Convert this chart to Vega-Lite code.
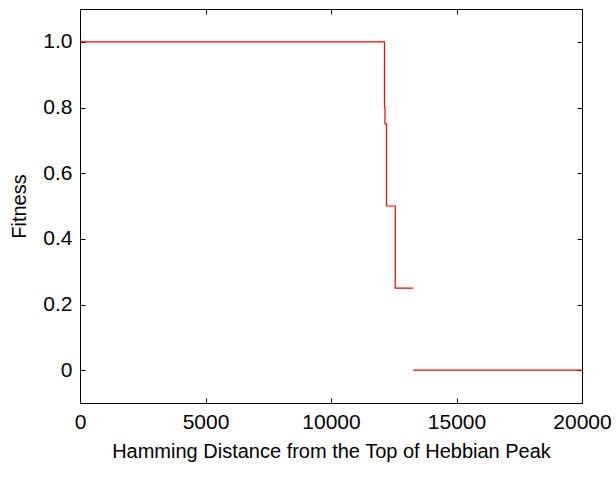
{
  "$schema": "https://vega.github.io/schema/vega-lite/v6.json",
  "width": 502,
  "height": 394,
  "autosize": "none",
  "padding": {"left": 80, "top": 9, "right": 34, "bottom": 78},
  "background": "white",
  "data": {
    "values": [
      {"seg": "a", "i": 1, "dist": 0, "fitness": 1},
      {"seg": "a", "i": 2, "dist": 12130, "fitness": 1},
      {"seg": "a", "i": 3, "dist": 12130, "fitness": 0.8},
      {"seg": "a", "i": 4, "dist": 12150, "fitness": 0.8},
      {"seg": "a", "i": 5, "dist": 12150, "fitness": 0.75},
      {"seg": "a", "i": 6, "dist": 12210, "fitness": 0.75},
      {"seg": "a", "i": 7, "dist": 12210, "fitness": 0.5},
      {"seg": "a", "i": 8, "dist": 12560, "fitness": 0.5},
      {"seg": "a", "i": 9, "dist": 12560, "fitness": 0.25},
      {"seg": "a", "i": 10, "dist": 13270, "fitness": 0.25},
      {"seg": "b", "i": 11, "dist": 13280, "fitness": 0},
      {"seg": "b", "i": 12, "dist": 20000, "fitness": 0}
    ]
  },
  "layer": [
    {
      "mark": {"type": "line", "color": "#ff0000", "strokeWidth": 1.2},
      "encoding": {
        "x": {
          "field": "dist",
          "type": "quantitative",
          "scale": {"domain": [0, 20000], "nice": false, "zero": false},
          "axis": {
            "title": "Hamming Distance from the Top of Hebbian Peak",
            "values": [0, 5000, 10000, 15000, 20000],
            "format": "d",
            "labelFlush": false,
            "titlePadding": 9
          }
        },
        "y": {
          "field": "fitness",
          "type": "quantitative",
          "scale": {"domain": [-0.1, 1.1], "nice": false, "zero": false},
          "axis": {
            "title": "Fitness",
            "values": [0, 0.2, 0.4, 0.6, 0.8, 1.0],
            "labelExpr": "datum.value == 0 ? '0' : format(datum.value, '.1f')",
            "labelFlush": false,
            "titlePadding": 13
          }
        },
        "detail": {"field": "seg"},
        "order": {"field": "i"}
      }
    },
    {
      "mark": {"type": "line", "opacity": 0},
      "encoding": {
        "x": {
          "field": "dist",
          "type": "quantitative",
          "axis": {"orient": "top", "labels": false, "title": null, "values": [0, 5000, 10000, 15000, 20000]}
        },
        "y": {
          "field": "fitness",
          "type": "quantitative",
          "axis": {"orient": "right", "labels": false, "title": null, "values": [0, 0.2, 0.4, 0.6, 0.8, 1.0]}
        },
        "detail": {"field": "seg"},
        "order": {"field": "i"}
      }
    }
  ],
  "resolve": {"axis": {"x": "independent", "y": "independent"}},
  "config": {
    "view": {"stroke": "black", "strokeWidth": 1},
    "font": "Liberation Sans",
    "axis": {
      "grid": false,
      "domainColor": "black",
      "tickColor": "black",
      "tickSize": -5,
      "labelPadding": 13,
      "labelFont": "Liberation Sans",
      "labelFontSize": 21,
      "labelColor": "black",
      "titleFont": "Liberation Sans",
      "titleFontSize": 20,
      "titleFontWeight": "normal",
      "titleColor": "black"
    }
  }
}
